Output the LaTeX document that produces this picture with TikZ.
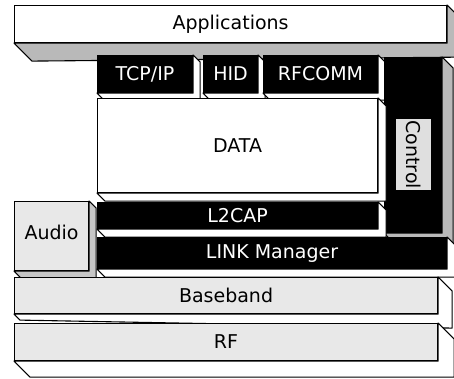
\documentclass[tikz,border=0pt]{standalone}
\usepackage{fontspec}
\usepackage{tikz}
\usetikzlibrary{calc, positioning}
\newfontfamily\stackfont{DejaVu Sans}

% front face is the node, the side faces go down and to the right
\newcommand{\bevel}[4]{%
  \filldraw[fill=#4, line width=1.1pt, line join=round]
    (#1.south west) -- ++(#2,#2) -- ($(#1.south east)+(#3,#3)$)
    -- ($(#1.north east)+(#3,#3)$) -- (#1.north east) -- (#1.south east) -- cycle;}

\begin{document}
\begin{tikzpicture}[x=1pt, y=-1pt,
    slab/.style={draw, line width=1.1pt, inner sep=0pt, anchor=north west,
      font=\stackfont\fontsize{19}{19}\selectfont},
    darkslab/.style={slab, fill=black, text=white},
    lightslab/.style={slab, fill=white, text=black},
    greyslab/.style={slab, fill=gray!18, text=black}]
        \useasboundingbox (0,0) rectangle (454,378);
        \clip (0,0) rectangle (454,378);

        % top layer
        \node[lightslab, minimum width=432pt, minimum height=37pt](app) at (14,5){Applications};
        \bevel{app}{18}{14}{gray!55}

        % protocols on top of L2CAP
        \node[darkslab, minimum width=95pt, minimum height=37pt](tcp) at (97,55){TCP/IP};
        \bevel{tcp}{7}{7}{white}
        \node[darkslab, minimum width=54pt, minimum height=37pt](hid) at (203,55){HID};
        \bevel{hid}{7}{7}{white}
        \node[darkslab, minimum width=114pt, minimum height=37pt](rfcomm) at (263,55){RFCOMM};
        \bevel{rfcomm}{7}{7}{white}

        % control column
        \node[darkslab, minimum width=57pt, minimum height=175pt](ctrl) at (384,57){};
        \bevel{ctrl}{11}{11}{gray!55}
        \node[greyslab, minimum width=36pt, minimum height=72pt, fill=gray!25](ctrllabel) at (395,118){};
        \node[font=\stackfont\fontsize{19}{19}\selectfont, rotate=-90](ctrltext) at (ctrllabel.center){Control};

        % data and L2CAP
        \node[lightslab, minimum width=280pt, minimum height=94pt](data) at (97,98){DATA};
        \bevel{data}{8}{8}{white}
        \node[darkslab, minimum width=280pt, minimum height=26pt](ltcap) at (97,202){L2CAP};
        \bevel{ltcap}{8}{8}{white}

        % audio and link manager
        \node[greyslab, minimum width=74pt, minimum height=69pt](audio) at (14,201){\raisebox{7pt}{Audio}};
        \bevel{audio}{7}{7}{gray!45}
        \node[darkslab, minimum width=349pt, minimum height=31pt](lmp) at (97,237){LINK Manager};
        \bevel{lmp}{8}{8}{white}

        % radio layers
        \node[greyslab, minimum width=423pt, minimum height=36pt](baseband) at (14,277){Baseband};
        \bevel{baseband}{6}{14}{white}
        \node[greyslab, minimum width=423pt, minimum height=37pt](rf) at (14,323){RF};
        \bevel{rf}{16}{16}{white}
    \end{tikzpicture}
\end{document}
